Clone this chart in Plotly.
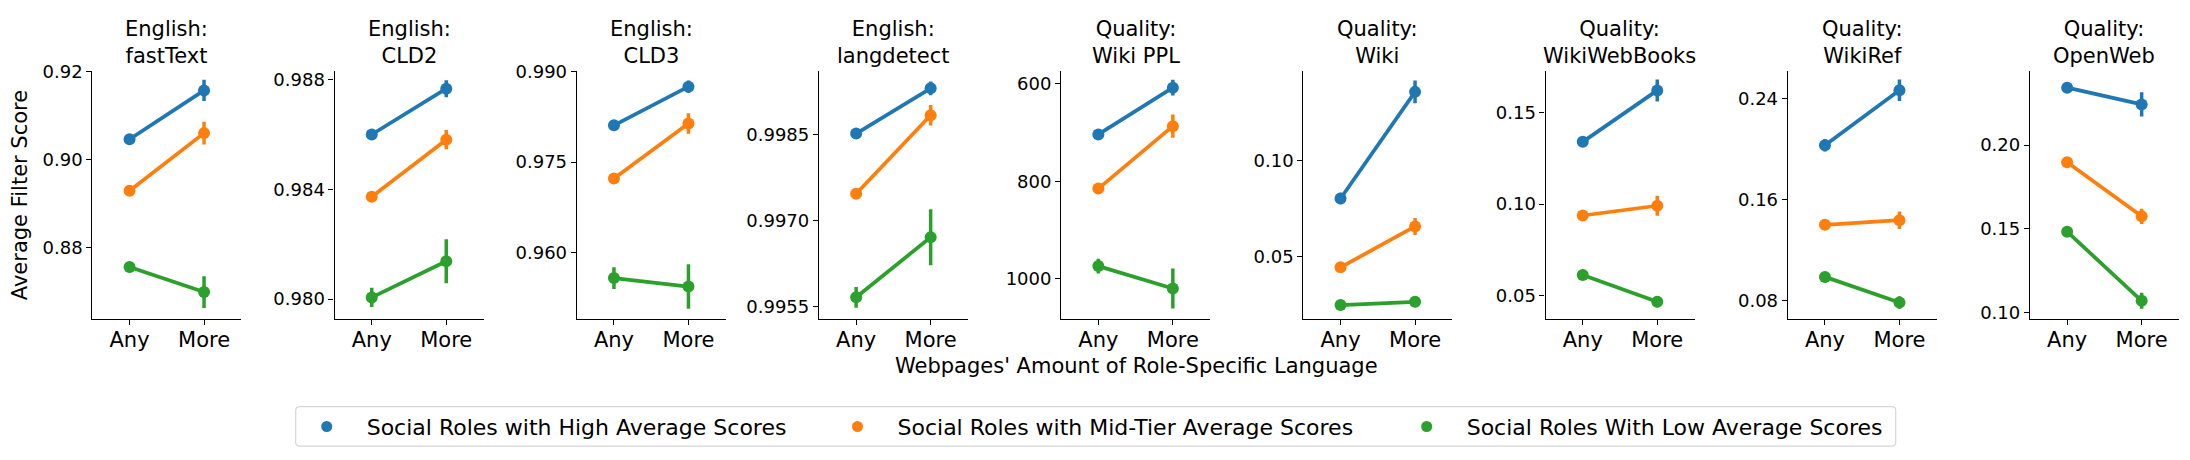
import plotly.graph_objects as go
from plotly.subplots import make_subplots

FONT = "DejaVu Sans"
BLUE = "#1f77b4"
ORANGE = "#ff7f0e"
GREEN = "#2ca02c"

PANEL_TITLES = [
    "English:<br>fastText", "English:<br>CLD2", "English:<br>CLD3", "English:<br>langdetect",
    "Quality:<br>Wiki PPL", "Quality:<br>Wiki", "Quality:<br>WikiWebBooks",
    "Quality:<br>WikiRef", "Quality:<br>OpenWeb",
]
AMOUNT = ["Any", "More"]
SERIES_NAMES = [
    "Social Roles with High Average Scores",
    "Social Roles with Mid-Tier Average Scores",
    "Social Roles With Low Average Scores",
]

# mean filter score per panel, [Any, More]
high_scores = [
    [0.9046, 0.9157], [0.98600, 0.98767], [0.9811, 0.9875], [0.99852, 0.99931],
    [704, 608], [0.0803, 0.1359], [0.1339, 0.1619], [0.2030, 0.2464], [0.2343, 0.2243],
]
mid_scores = [
    [0.8929, 0.9060], [0.98373, 0.98581], [0.9723, 0.9814], [0.99747, 0.99884],
    [815, 687], [0.0444, 0.0657], [0.0938, 0.0991], [0.1401, 0.1437], [0.1898, 0.1575],
]
low_scores = [
    [0.8756, 0.8699], [0.98006, 0.98138], [0.9558, 0.9544], [0.99566, 0.99671],
    [974, 1020], [0.0247, 0.0264], [0.0614, 0.0468], [0.0989, 0.0787], [0.1483, 0.1071],
]

# half-widths of the confidence intervals
high_err = [
    [0.0005, 0.0024], [0.0001, 0.00031], [0.0004, 0.0010], [0.00004, 0.00012],
    [5, 16], [0.0030, 0.0059], [0.0015, 0.0060], [0.0050, 0.0085], [0.0030, 0.0072],
]
mid_err = [
    [0.0005, 0.0026], [0.0001, 0.00035], [0.0004, 0.0017], [0.00004, 0.00018],
    [5, 24], [0.0010, 0.0044], [0.0015, 0.0055], [0.0020, 0.0070], [0.0015, 0.0046],
]
low_err = [
    [0.0012, 0.0036], [0.00035, 0.0008], [0.0018, 0.0037], [0.00018, 0.00049],
    [15, 41], [0.0008, 0.0008], [0.0015, 0.0030], [0.0020, 0.0050], [0.0015, 0.0048],
]

y_ticks = [
    [0.88, 0.90, 0.92], [0.980, 0.984, 0.988], [0.960, 0.975, 0.990],
    [0.9955, 0.9970, 0.9985], [600, 800, 1000], [0.05, 0.10],
    [0.05, 0.10, 0.15], [0.08, 0.16, 0.24], [0.10, 0.15, 0.20],
]
y_tick_labels = [
    ["0.88", "0.90", "0.92"], ["0.980", "0.984", "0.988"], ["0.960", "0.975", "0.990"],
    ["0.9955", "0.9970", "0.9985"], ["600", "800", "1000"], ["0.05", "0.10"],
    ["0.05", "0.10", "0.15"], ["0.08", "0.16", "0.24"], ["0.10", "0.15", "0.20"],
]
y_ranges = [
    [0.8639, 0.9202], [0.97929, 0.98833], [0.9491, 0.99016], [0.99529, 0.99962],
    [1081.5, 573], [0.0177, 0.147], [0.0377, 0.1727], [0.066, 0.262], [0.0965, 0.2445],
]

# the page body has an 8px margin, so the figure is a bit smaller than the window
PAGE_MARGIN = 8
W, H = 2190 - 2 * PAGE_MARGIN, 460 - 2 * PAGE_MARGIN
N = len(PANEL_TITLES)
LEFT0, STEP, PANEL_W = 92.3, 242.2, 149
TOP, BOTTOM = 62.3, 318.3


def px_x(x):
    return (x - PAGE_MARGIN) / W


def px_y(y):
    return 1 - (y - PAGE_MARGIN) / H


fig = make_subplots(rows=1, cols=N)

series = [
    (SERIES_NAMES[0], BLUE, high_scores, high_err),
    (SERIES_NAMES[1], ORANGE, mid_scores, mid_err),
    (SERIES_NAMES[2], GREEN, low_scores, low_err),
]

for i in range(N):
    for name, color, scores, errs in series:
        fig.add_trace(go.Scatter(
            x=AMOUNT, y=scores[i], mode="lines+markers", name=name,
            line=dict(color=color, width=3.75),
            marker=dict(color=color, size=12),
            error_y=dict(type="data", array=errs[i], color=color, thickness=3.5, width=0),
            showlegend=False, hoverinfo="skip",
        ), row=1, col=i + 1)

    left = LEFT0 + STEP * i
    axis_style = dict(showline=True, linecolor="black", linewidth=1.1, showgrid=False,
                      zeroline=False, ticks="outside", ticklen=5, tickwidth=1.1,
                      tickcolor="black")
    fig.update_xaxes(domain=[px_x(left), px_x(left + PANEL_W)], type="category",
                     range=[-0.5, 1.5], ticklabelstandoff=-3,
                     tickfont=dict(size=21, color="black", family=FONT),
                     **axis_style, row=1, col=i + 1)
    fig.update_yaxes(domain=[px_y(BOTTOM), px_y(TOP)], range=y_ranges[i],
                     tickvals=y_ticks[i], ticktext=y_tick_labels[i],
                     tickfont=dict(size=18, color="black", family=FONT),
                     **axis_style, row=1, col=i + 1)

    fig.add_annotation(
        text=PANEL_TITLES[i], xref="paper", yref="paper",
        x=px_x(left + PANEL_W / 2), y=px_y(33), xanchor="center", yanchor="middle",
        showarrow=False, font=dict(size=21, color="black", family=FONT),
    )

fig.add_annotation(text="Average Filter Score", xref="paper", yref="paper",
                   x=px_x(20), y=px_y(191), xanchor="center", yanchor="middle",
                   textangle=-90, showarrow=False,
                   font=dict(size=21, color="black", family=FONT))
fig.add_annotation(text="Webpages' Amount of Role-Specific Language", xref="paper", yref="paper",
                   x=px_x(1136), y=px_y(367), xanchor="center", yanchor="middle",
                   showarrow=False, font=dict(size=21, color="black", family=FONT))

# legend: one plotly legend per entry so the spacing can follow the reference,
# with a single rounded frame drawn around all three
LEGEND_MARKER_X = [326.7, 857.5, 1426.7]
LEGEND_Y = 430
legend_keys = ["legend", "legend2", "legend3"]
legend_layout = {}
for k, (name, color, _, _) in enumerate(series):
    fig.add_trace(go.Scatter(x=[None], y=[None], mode="markers", name=name,
                             marker=dict(color=color, size=11), legend=legend_keys[k]),
                  row=1, col=1)
    legend_layout[legend_keys[k]] = dict(
        orientation="h", x=px_x(LEGEND_MARKER_X[k] - 40), xanchor="left",
        y=px_y(LEGEND_Y), yanchor="middle", itemwidth=70,
        bgcolor="rgba(0,0,0,0)", borderwidth=0,
        font=dict(size=22, color="black", family=FONT),
    )

bx0, bx1, by0, by1, r = px_x(295.7), px_x(1895.7), px_y(450), px_y(409.3), 4
rx, ry = r / W, r / H
frame = (f"M {bx0 + rx},{by0} L {bx1 - rx},{by0} Q {bx1},{by0} {bx1},{by0 + ry} "
         f"L {bx1},{by1 - ry} Q {bx1},{by1} {bx1 - rx},{by1} "
         f"L {bx0 + rx},{by1} Q {bx0},{by1} {bx0},{by1 - ry} "
         f"L {bx0},{by0 + ry} Q {bx0},{by0} {bx0 + rx},{by0} Z")
fig.add_shape(type="path", path=frame, xref="paper", yref="paper",
              line=dict(color="#d6d6d6", width=1.2), fillcolor="rgba(255,255,255,0.8)",
              layer="below")

fig.update_layout(
    width=W, height=H,
    margin=dict(l=0, r=0, t=0, b=0),
    paper_bgcolor="white", plot_bgcolor="white",
    font=dict(family=FONT, color="black"),
    **legend_layout,
)

fig.write_html("out.html")
